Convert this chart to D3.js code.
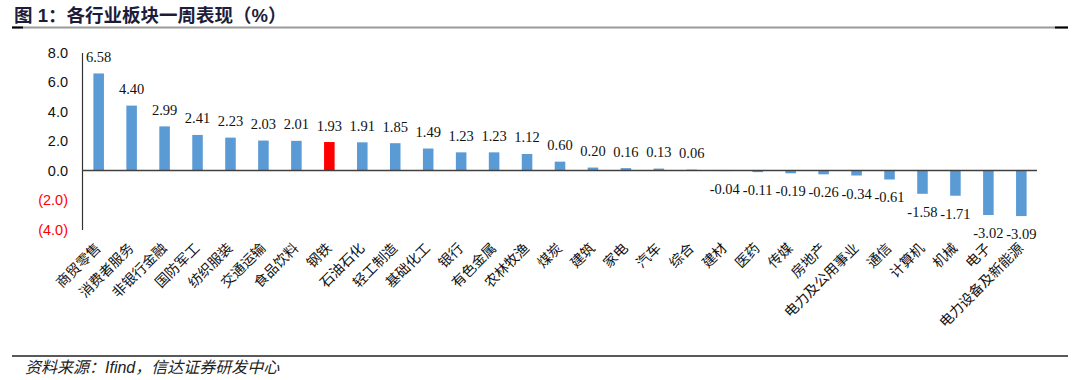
<!DOCTYPE html>
<html><head><meta charset="utf-8">
<script src="https://cdn.jsdelivr.net/npm/d3@7"></script>
<style>body{margin:0;background:#fff;} svg{display:block;}</style>
</head><body>
<script>
const categories = ["商贸零售","消费者服务","非银行金融","国防军工","纺织服装","交通运输","食品饮料","钢铁","石油石化","轻工制造","基础化工","银行","有色金属","农林牧渔","煤炭","建筑","家电","汽车","综合","建材","医药","传媒","房地产","电力及公用事业","通信","计算机","机械","电子","电力设备及新能源"];
const values = [6.58,4.40,2.99,2.41,2.23,2.03,2.01,1.93,1.91,1.85,1.49,1.23,1.23,1.12,0.60,0.20,0.16,0.13,0.06,-0.04,-0.11,-0.19,-0.26,-0.34,-0.61,-1.58,-1.71,-3.02,-3.09];
const highlight = ["钢铁"];
const yTicks = [-4,-2,0,2,4,6,8];
const yTickLabels = ["(4.0)","(2.0)","0.0","2.0","4.0","6.0","8.0"];
const title = "图 1：各行业板块一周表现（%）";
const source = "资料来源：Ifind，信达证券研发中心";

const W=1080,H=380;
const svg=d3.select("body").append("svg").attr("width",W).attr("height",H);
const x=d3.scaleBand().domain(categories).range([82.2,1037.8]).paddingInner(0.68).paddingOuter(0.34);
const y=d3.scaleLinear().domain([-4,8]).range([229.5,52.5]);

// title
svg.append("text").attr("x",14).attr("y",22).attr("font-family","'Liberation Sans','Noto Sans CJK SC',sans-serif")
  .attr("font-weight","bold").attr("font-size",18.5).attr("fill","#1d1d3b").text(title);
svg.append("line").attr("x1",12).attr("x2",1068).attr("y1",27.5).attr("y2",27.5).attr("stroke","#9a9a9a").attr("stroke-width",2);
svg.append("line").attr("x1",12).attr("x2",23).attr("y1",27.5).attr("y2",27.5).attr("stroke","#000").attr("stroke-width",2);
svg.append("line").attr("x1",1055).attr("x2",1068).attr("y1",27.5).attr("y2",27.5).attr("stroke","#000").attr("stroke-width",2);

// y axis
const yAxis=d3.axisLeft(y).tickValues(yTicks).tickSize(0).tickPadding(14)
  .tickFormat((d,i)=>yTickLabels[yTicks.indexOf(d)]);
const gy=svg.append("g").attr("transform","translate(82,0)").call(yAxis);
gy.select(".domain").attr("stroke","#333").attr("stroke-width",1.2);
gy.selectAll(".tick text").attr("font-family","'Liberation Sans',Arial,sans-serif").attr("font-size",14.5)
  .attr("fill",d=>d<0?"#ff0000":"#111");

// bars
svg.append("g").selectAll("rect").data(values).join("rect")
  .attr("x",(d,i)=>x(categories[i]))
  .attr("width",x.bandwidth())
  .attr("y",d=>y(Math.max(0,d)))
  .attr("height",d=>Math.abs(y(d)-y(0)))
  .attr("fill",(d,i)=>highlight.includes(categories[i])?"#ff0000":"#5b9bd5");

// zero line
svg.append("line").attr("x1",82).attr("x2",1037).attr("y1",y(0)).attr("y2",y(0)).attr("stroke","#404040").attr("stroke-width",1.5);

// value labels
svg.append("g").selectAll("text").data(values).join("text")
  .attr("x",(d,i)=>x(categories[i])+x.bandwidth()/2)
  .attr("y",d=>d>=0?y(d)-11.5:y(d)+23)
  .attr("text-anchor","middle")
  .attr("font-family","'Liberation Serif','Times New Roman',serif").attr("font-size",14.5).attr("fill","#111")
  .text(d=>d.toFixed(2));

// category labels
svg.append("g").selectAll("text").data(categories).join("text")
  .attr("transform",d=>`translate(${x(d)+x.bandwidth()/2+3},${249}) rotate(-45)`)
  .attr("text-anchor","end")
  .attr("font-family","'Noto Sans CJK SC',sans-serif").attr("font-size",14).attr("fill","#111")
  .text(d=>d);

// footer
svg.append("line").attr("x1",12).attr("x2",1068).attr("y1",356).attr("y2",356).attr("stroke","#222").attr("stroke-width",1.5);
svg.append("text").attr("x",25).attr("y",373).attr("font-family","'Liberation Sans','Noto Sans CJK SC',sans-serif")
  .attr("font-style","italic").attr("font-size",16).attr("fill","#222").text(source);
</script>
</body></html>
